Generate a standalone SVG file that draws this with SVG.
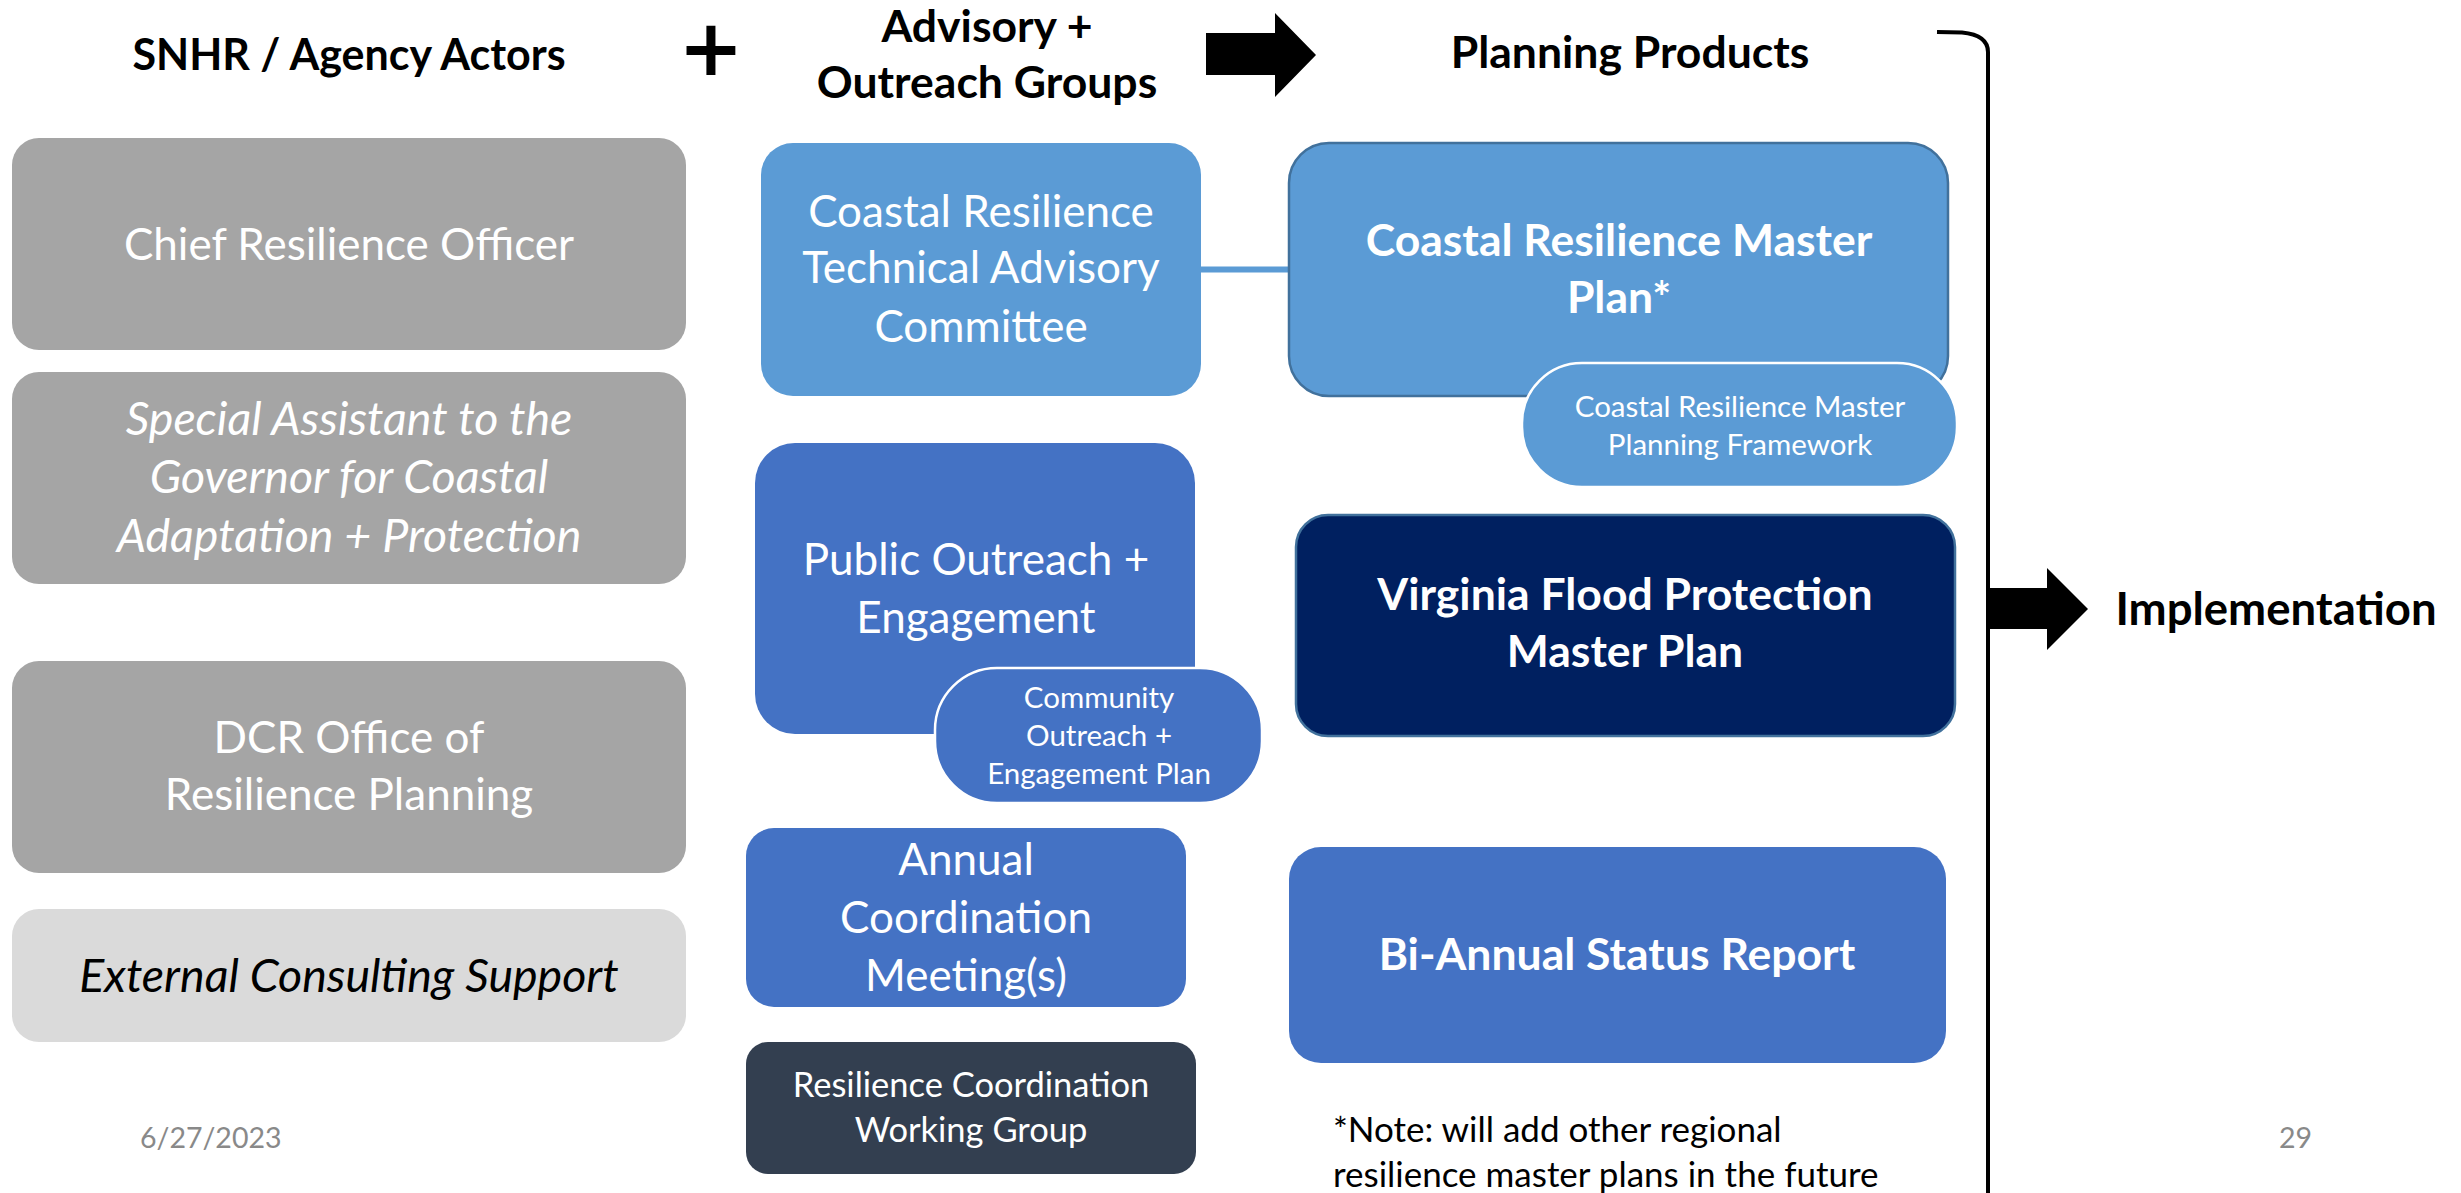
<svg xmlns="http://www.w3.org/2000/svg" width="2461" height="1193" viewBox="0 0 2461 1193">
<style>
text{font-family:Lato,"Open Sans",sans-serif;text-anchor:middle}
.hd{font-weight:bold;font-size:44.5px;fill:#000}
.w{fill:#fff;font-size:44px}
.wi{fill:#fff;font-size:46.5px;font-style:italic}
.wb{fill:#fff;font-size:44.5px;font-weight:bold}
.sm{fill:#fff;font-size:29.5px}
.gray{fill:#A5A5A5}
.lb{fill:#5B9BD5}
.mb{fill:#4472C4}
.pill{stroke:#fff;stroke-width:2.5}
.bd{stroke:#41719C;stroke-width:2.5}
.ft{fill:#898989;font-size:28.5px}
.note{font-size:35px;text-anchor:start;fill:#000}
</style>
<g id="headers">
<text class="hd" x="349" y="70" style="font-size:43px">SNHR / Agency Actors</text>
<text x="711" y="75" style="font-family:'DejaVu Sans',sans-serif;font-weight:bold;font-size:78px;fill:#000">+</text>
<text class="hd" x="987" y="42">Advisory +</text>
<text class="hd" x="987" y="98">Outreach Groups</text>
<text class="hd" x="1630" y="68">Planning Products</text>
<text class="hd" x="2276" y="625" style="font-size:45.5px">Implementation</text>
</g>
<g id="arrow-main"><polygon points="1206,33 1275,33 1275,13 1316,55 1275,97 1275,75 1206,75" fill="#000"/></g>
<g id="arrow-impl"><polygon points="1987,588 2047,588 2047,568 2088,609 2047,650 2047,629 1987,629" fill="#000"/></g>
<g id="bracket"><path d="M1937,32 L1962,32.5 Q1988,35 1988,52 L1988,1193" fill="none" stroke="#000" stroke-width="4"/></g>

<g id="chief-resilience-officer">
<rect class="gray" x="12" y="138" width="674" height="212" rx="27"/>
<text class="w" x="349" y="260">Chief Resilience Officer</text>
</g>
<g id="special-assistant">
<rect class="gray" x="12" y="372" width="674" height="212" rx="27"/>
<text class="wi" x="349" y="435">Special Assistant to the</text>
<text class="wi" x="349" y="493">Governor for Coastal</text>
<text class="wi" x="349" y="552">Adaptation + Protection</text>
</g>
<g id="dcr-office">
<rect class="gray" x="12" y="661" width="674" height="212" rx="27"/>
<text class="w" x="349" y="753">DCR Office of</text>
<text class="w" x="349" y="810">Resilience Planning</text>
</g>
<g id="external-consulting">
<rect x="12" y="909" width="674" height="133" rx="27" fill="#DADADA"/>
<text x="349" y="992" style="font-size:46.5px;font-style:italic;fill:#000">External Consulting Support</text>
</g>

<g id="connectors">
<line x1="1200" y1="269.5" x2="1290" y2="269.5" stroke="#5B9BD5" stroke-width="6"/>
</g>

<g id="technical-advisory-committee">
<rect class="lb" x="761" y="143" width="440" height="253" rx="32"/>
<text class="w" x="981" y="227">Coastal Resilience</text>
<text class="w" x="981" y="283">Technical Advisory</text>
<text class="w" x="981" y="342">Committee</text>
</g>
<g id="public-outreach">
<rect class="mb" x="755" y="443" width="440" height="291" rx="40"/>
<text class="w" x="976" y="575">Public Outreach +</text>
<text class="w" x="976" y="633">Engagement</text>
</g>
<g id="community-plan">
<rect class="mb pill" x="935" y="668" width="327" height="135" rx="62"/>
<text class="sm" x="1099" y="708">Community</text>
<text class="sm" x="1099" y="746">Outreach +</text>
<text class="sm" x="1099" y="784">Engagement Plan</text>
</g>
<g id="annual-meeting">
<rect class="mb" x="746" y="828" width="440" height="179" rx="28"/>
<text class="w" x="966" y="875">Annual</text>
<text class="w" x="966" y="933">Coordination</text>
<text class="w" x="966" y="991">Meeting(s)</text>
</g>
<g id="working-group">
<rect x="746" y="1042" width="450" height="132" rx="22" fill="#333F50"/>
<text class="w" x="971" y="1097" style="font-size:34.5px">Resilience Coordination</text>
<text class="w" x="971" y="1142" style="font-size:34.5px">Working Group</text>
</g>

<g id="master-plan">
<rect class="lb bd" x="1289" y="143" width="659" height="253" rx="40"/>
<text class="wb" x="1619" y="256">Coastal Resilience Master</text>
<text class="wb" x="1619" y="313">Plan*</text>
</g>
<g id="planning-framework">
<rect class="lb pill" x="1522" y="363" width="435" height="124" rx="60"/>
<text class="sm" x="1740" y="417">Coastal Resilience Master</text>
<text class="sm" x="1740" y="455">Planning Framework</text>
</g>
<g id="flood-protection">
<rect x="1296" y="515" width="659" height="221" rx="32" fill="#002060" class="bd"/>
<text class="wb" x="1625" y="610">Virginia Flood Protection</text>
<text class="wb" x="1625" y="667">Master Plan</text>
</g>
<g id="status-report">
<rect class="mb" x="1289" y="847" width="657" height="216" rx="32"/>
<text class="wb" x="1617" y="970">Bi-Annual Status Report</text>
</g>

<g id="notes">
<text class="note" x="1333" y="1142">*Note: will add other regional</text>
<text class="note" x="1333" y="1187">resilience master plans in the future</text>
<text class="ft" x="140" y="1148" style="text-anchor:start">6/27/2023</text>
<text class="ft" x="2279" y="1148" style="text-anchor:start">29</text>
</g>
</svg>
